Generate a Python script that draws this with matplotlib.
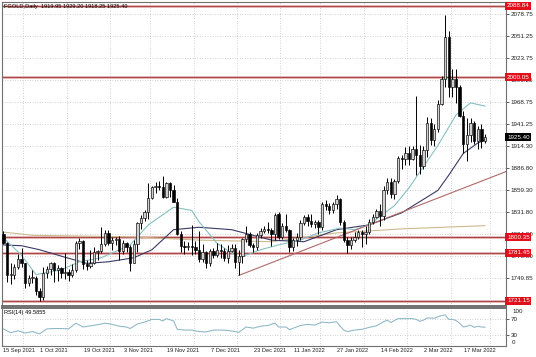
import numpy as np
import pandas as pd
import matplotlib
matplotlib.use('Agg')
import matplotlib.pyplot as plt

plt.rcParams['font.family'] = ['Liberation Sans', 'DejaVu Sans']

# ── Daily bars (Dec 24 / Dec 31 are not in the feed) ──────────────────────
dates = pd.bdate_range('2021-09-15', '2022-03-23')
dates = dates[~dates.isin(pd.to_datetime(['2021-12-24', '2021-12-31']))]

opens = [
    1804, 1794, 1754, 1754, 1764, 1774, 1768, 1743, 1750, 1750, 1734, 1726,
    1756, 1761, 1769, 1760, 1762, 1756, 1757, 1754, 1760, 1793, 1796, 1767, 1765, 1769, 1782, 1784, 1792, 1806, 1793, 1797, 1799,
    1783, 1793, 1788, 1769, 1792, 1818, 1825, 1832, 1849, 1863, 1865, 1863, 1851, 1868, 1859, 1845, 1805, 1790, 1788, 1790, 1788, 1785,
    1774, 1782, 1768, 1783, 1778, 1785, 1783, 1775, 1783, 1787, 1770, 1777, 1798, 1804, 1791, 1789, 1803, 1808, 1811, 1810, 1804,
    1829, 1801, 1814, 1810, 1789, 1797, 1801, 1818, 1826, 1821, 1817, 1819, 1813, 1842, 1839, 1835, 1842, 1848, 1819, 1797, 1791,
    1797, 1801, 1807, 1804, 1807, 1820, 1826, 1833, 1827, 1859, 1870, 1855, 1871, 1899, 1898, 1906, 1898, 1910, 1903, 1889,
    1909, 1943, 1922, 1936, 1966, 1998, 2050, 1988, 1998, 1988, 1952, 1917, 1928, 1943, 1921, 1936, 1919.95,
]
highs = [
    1808, 1795, 1769, 1767, 1780, 1787, 1769, 1754, 1760, 1752, 1737, 1763,
    1765, 1770, 1770, 1766, 1764, 1781, 1761, 1767, 1796, 1800, 1797, 1772, 1785, 1788, 1785, 1813, 1810, 1809, 1801, 1801, 1802,
    1797, 1795, 1791, 1797, 1819, 1828, 1834, 1868, 1865, 1870, 1871, 1877, 1870, 1870, 1866, 1849, 1808, 1796, 1795, 1816, 1796, 1808,
    1792, 1784, 1786, 1787, 1793, 1792, 1787, 1791, 1792, 1792, 1785, 1800, 1815, 1807, 1793, 1806, 1812, 1814, 1820, 1812, 1831,
    1832, 1818, 1829, 1811, 1800, 1806, 1822, 1828, 1829, 1830, 1822, 1822, 1845, 1847, 1843, 1845, 1853, 1850, 1822, 1801, 1801,
    1807, 1810, 1809, 1814, 1823, 1829, 1836, 1842, 1865, 1874, 1874, 1873, 1902, 1903, 1913, 1914, 1914, 1976, 1915, 1914,
    1950, 1949, 1942, 1971, 2002, 2078, 2058, 2010, 2010, 1990, 1958, 1949, 1949, 1946, 1939, 1942, 1929.20,
]
lows = [
    1792, 1745, 1742, 1748, 1761, 1763, 1737, 1740, 1743, 1729, 1721, 1722,
    1750, 1754, 1745, 1746, 1750, 1749, 1746, 1751, 1757, 1786, 1761, 1760, 1762, 1767, 1772, 1781, 1790, 1791, 1785, 1791, 1772,
    1780, 1782, 1759, 1768, 1782, 1811, 1821, 1823, 1848, 1856, 1859, 1850, 1850, 1851, 1845, 1803, 1782, 1780, 1785, 1779, 1780, 1770,
    1770, 1762, 1765, 1775, 1776, 1775, 1771, 1769, 1782, 1762, 1753, 1768, 1795, 1788, 1782, 1785, 1800, 1806, 1806, 1790, 1797,
    1798, 1799, 1807, 1782, 1783, 1790, 1797, 1816, 1815, 1813, 1812, 1805, 1810, 1834, 1830, 1831, 1836, 1816, 1795, 1781, 1786,
    1795, 1799, 1788, 1792, 1805, 1817, 1824, 1815, 1822, 1855, 1850, 1848, 1868, 1886, 1890, 1890, 1897, 1878, 1880, 1885,
    1900, 1915, 1914, 1932, 1965, 1988, 1975, 1975, 1968, 1950, 1906, 1895, 1919, 1917, 1910, 1912, 1918.25,
]
closes = [
    1794, 1754, 1754, 1764, 1774, 1768, 1743, 1750, 1750, 1734, 1726, 1756,
    1761, 1769, 1760, 1762, 1756, 1757, 1754, 1760, 1793, 1796, 1767, 1765, 1769, 1782, 1784, 1792, 1806, 1793, 1797, 1799, 1783,
    1793, 1788, 1769, 1792, 1818, 1825, 1832, 1849, 1863, 1865, 1863, 1851, 1868, 1859, 1845, 1805, 1790, 1788, 1790, 1788, 1785, 1774,
    1782, 1768, 1783, 1778, 1785, 1783, 1775, 1783, 1787, 1770, 1777, 1798, 1804, 1791, 1789, 1803, 1808, 1811, 1810, 1804, 1828,
    1801, 1814, 1810, 1789, 1797, 1801, 1818, 1826, 1821, 1817, 1819, 1813, 1842, 1839, 1835, 1842, 1848, 1819, 1797, 1791, 1797,
    1801, 1807, 1804, 1807, 1820, 1826, 1833, 1827, 1859, 1870, 1855, 1871, 1899, 1898, 1906, 1898, 1910, 1903, 1889, 1909,
    1943, 1922, 1936, 1966, 1998, 2050, 1988, 1998, 1988, 1952, 1917, 1928, 1943, 1921, 1936, 1921, 1925.40,
]

# ── Moving averages as drawn on the chart (bar index, price) ──────────────
ma_fast_idx = [0, 5, 9, 16, 21, 27, 35, 40, 47, 52, 54, 59, 65, 71, 76, 82, 87, 93, 97, 101, 108, 112, 115, 120, 125, 129, 133]
ma_fast_val = [1800, 1778, 1754, 1760, 1770, 1775, 1791, 1816, 1838, 1834, 1820, 1793, 1775, 1785, 1791, 1797, 1806, 1812,
               1810, 1816, 1840, 1862, 1882, 1915, 1953, 1968, 1964]
ma_mid_idx = [0, 5, 10, 16, 23, 29, 36, 41, 47, 54, 63, 74, 83, 92, 101, 110, 120, 123, 127, 131, 133]
ma_mid_val = [1791, 1790, 1785, 1777, 1768, 1770, 1775, 1785, 1810, 1813, 1810, 1797, 1795, 1810, 1816, 1831, 1859, 1878,
              1905, 1918, 1922]
ma_slow_idx = [0, 8, 36, 54, 74, 92, 110, 133]
ma_slow_val = [1807, 1803, 1801, 1797, 1795, 1806, 1811, 1815]

# ── RSI(14) (bar index, value) ────────────────────────────────────────────
rsi_idx = [0, 2, 4, 6, 8, 10, 12, 14, 16, 18, 20, 22, 24, 26, 28, 30, 32, 34, 35, 37, 39, 41, 43, 44, 45, 47, 48, 50,
           52, 54, 56, 58, 60, 62, 64, 65, 67, 69, 71, 73, 75, 76, 78, 79, 82, 84, 86, 88, 90, 92, 93, 94, 95, 97,
           99, 101, 103, 105, 106, 107, 109, 111, 113, 114, 115, 116, 117, 119, 120, 121, 122, 123, 124, 125, 126,
           127, 128, 129, 130, 131, 132, 133]
rsi_val = [45, 35, 40, 34, 38, 32, 45, 46, 46, 45, 60, 50, 53, 56, 60, 57, 52, 50, 46, 58, 63, 70, 70, 66, 72, 66, 44, 42,
           42, 38, 37, 42, 42, 41, 38, 36, 50, 47, 52, 54, 60, 50, 50, 43, 54, 57, 55, 63, 61, 64, 52, 42, 38, 42,
           44, 49, 53, 64, 68, 62, 72, 72, 72, 70, 65, 68, 74, 73, 77, 80, 82, 70, 70, 67, 60,
           50, 52, 55, 49, 52, 50, 49.59]

# ── Levels, trend line, axis labels ───────────────────────────────────────
levels = [2088.84, 2000.05, 1800.35, 1781.45, 1721.15]
trend_dates = ['2021-12-15', '2022-03-17']
trend_prices = [1753.0, 1865.2]
price_ticks = [2078.75, 2051.25, 2023.75, 1996.25, 1968.75, 1941.25, 1914.30, 1886.80,
               1859.30, 1831.80, 1804.30, 1776.80, 1749.85]
date_labels = ['15 Sep 2021', '1 Oct 2021', '19 Oct 2021', '3 Nov 2021', '19 Nov 2021', '7 Dec 2021',
               '23 Dec 2021', '11 Jan 2022', '27 Jan 2022', '14 Feb 2022', '2 Mar 2022', '17 Mar 2022']
title = 'FGOLD,Daily  1919.95 1929.20 1918.25 1925.40'
rsi_title = 'RSI(14) 49.5855'

FS = 4.5
FS_SMALL = 4.1
W, H = 536, 357


def box(x0, y0, x1, y1):
    return [x0 / W, 1 - y1 / H, (x1 - x0) / W, (y1 - y0) / H]


fig = plt.figure(figsize=(W / 100, H / 100), dpi=100)
ax = fig.add_axes(box(2, 2, 506, 306))
rx = fig.add_axes(box(2, 308, 506, 346), sharex=ax)

x = np.arange(len(dates))
o, h, l, c = (np.array(v, dtype=float) for v in (opens, highs, lows, closes))
up = c >= o
body = np.maximum(np.abs(c - o), 0.8)

xlim = (-0.4, 138.8)
ax.set_xlim(*xlim)
ax.set_ylim(1714.9, 2093.7)

# grid
grid_c = '#c4c4c4'
label_pos = [dates.get_loc(pd.to_datetime(d, format='%d %b %Y')) for d in date_labels]
for a in (ax, rx):
    for p in label_pos:
        a.axvline(p + 5.5, color=grid_c, ls=(0, (1, 2)), lw=0.6, zorder=0)
for p in price_ticks:
    ax.axhline(p, color=grid_c, ls=(0, (1, 2)), lw=0.6, zorder=0)

# levels
for v in levels:
    ax.axhline(v, color='#e8b4b4', lw=2.0, zorder=1)
    ax.axhline(v, color='#a84848', lw=0.8, zorder=1.1)

# moving averages
ax.plot(ma_slow_idx, ma_slow_val, color='#cdb98e', lw=0.8, zorder=2)
ax.plot(ma_mid_idx, ma_mid_val, color='#3a3a66', lw=0.8, zorder=2)
ax.plot(ma_fast_idx, ma_fast_val, color='#86c0c0', lw=0.8, zorder=2)

# trend line (ray)
t0 = dates.get_loc(pd.Timestamp(trend_dates[0]))
t1 = dates.get_loc(pd.Timestamp(trend_dates[1]))
slope = (trend_prices[1] - trend_prices[0]) / (t1 - t0)
ax.plot([t0, xlim[1]], [trend_prices[0], trend_prices[0] + slope * (xlim[1] - t0)],
        color='#b06a6a', lw=0.8, zorder=2)

# candles
ax.vlines(x, l, h, color='black', lw=0.7, zorder=3)
ax.bar(x[up], body[up], bottom=o[up], width=0.65, color='#d0d0d0',
       edgecolor='black', lw=0.45, zorder=4)
ax.bar(x[~up], body[~up], bottom=c[~up], width=0.65, color='black',
       edgecolor='black', lw=0.45, zorder=4)

# right price scale
ax.yaxis.tick_right()
ax.set_yticks(price_ticks)
ax.set_yticklabels([f'{p:.2f}' for p in price_ticks])
ax.tick_params(axis='y', labelsize=FS, length=2, width=0.5, pad=1.5, colors='#202020')
ax.tick_params(axis='x', bottom=False, labelbottom=False)

ytrans = matplotlib.transforms.blended_transform_factory(ax.transAxes, ax.transData)
for v in levels:
    ax.text(1.002, v, f'{v:.2f}', transform=ytrans, ha='left', va='center', fontsize=FS,
            color='white', clip_on=False, zorder=10,
            bbox=dict(boxstyle='square,pad=0.25', fc='#e0101c', ec='none'))
ax.text(1.002, c[-1], f'{c[-1]:.2f}', transform=ytrans, ha='left', va='center', fontsize=FS,
        color='white', clip_on=False, zorder=10,
        bbox=dict(boxstyle='square,pad=0.25', fc='black', ec='none'))

ax.text(0.003, 0.994, title, transform=ax.transAxes, ha='left', va='top', fontsize=FS_SMALL,
        color='black', zorder=11)

# RSI panel
rx.set_ylim(0, 100)
for lv in (30, 70):
    rx.axhline(lv, color=grid_c, ls=(0, (1, 2)), lw=0.6, zorder=0)
rx.plot(rsi_idx, rsi_val, color='#8cb6c6', lw=0.75, zorder=2)
rx.yaxis.tick_right()
rx.set_yticks([70, 30])
rx.tick_params(axis='y', labelsize=FS, length=2, width=0.5, pad=1.5, colors='#202020')
rx.tick_params(axis='x', bottom=False, labelbottom=False)
rx.text(1.012, 0.97, '100', transform=rx.transAxes, ha='left', va='top', fontsize=FS, color='#202020')
rx.text(1.012, 0.03, '0', transform=rx.transAxes, ha='left', va='bottom', fontsize=FS, color='#202020')
rx.text(0.003, 0.94, rsi_title, transform=rx.transAxes, ha='left', va='top', fontsize=FS_SMALL, color='black')

xtrans = matplotlib.transforms.blended_transform_factory(rx.transData, rx.transAxes)
for p, lab in zip(label_pos, date_labels):
    rx.text(max(p - 1.8, xlim[0] + 0.2), -0.06, lab, transform=xtrans, ha='left', va='top',
            fontsize=FS_SMALL, color='#202020', clip_on=False)

for a in (ax, rx):
    for side, sp in a.spines.items():
        sp.set_color('#707070')
        sp.set_linewidth(0.8)
ax.spines['bottom'].set_linewidth(1.4)
rx.spines['top'].set_linewidth(1.4)

fig.savefig('out.png', dpi=100)
